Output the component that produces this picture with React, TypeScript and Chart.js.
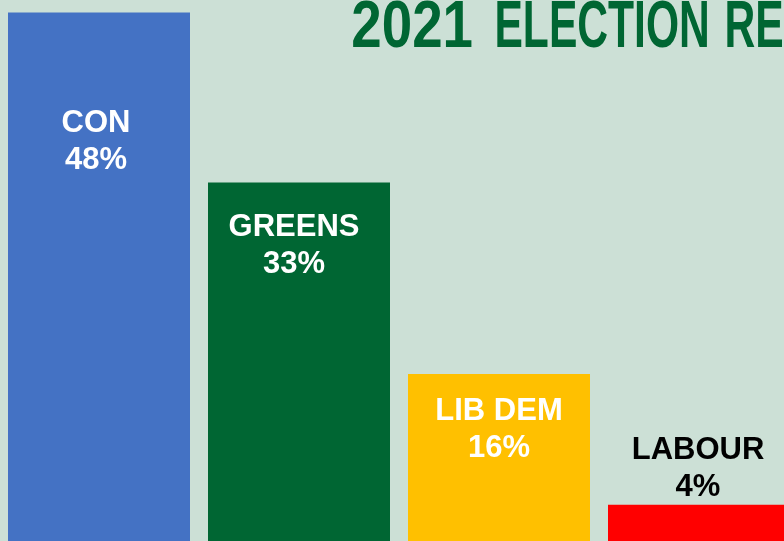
import React, { useEffect, useRef } from "react";
import { Chart, registerables } from "chart.js";

Chart.register(...registerables);

const parties = ["CON", "GREENS", "LIB DEM", "LABOUR"];
const shares = [47.9, 32.8, 15.8, 4.2];
const barColors = ["#4472C4", "#006633", "#FFC000", "#FF0000"];
const labelColors = ["#FFFFFF", "#FFFFFF", "#FFFFFF", "#000000"];
const titleYear = "2021";
const titleRest = ["ELECTION", "RESULTS"];

// label layout (pixels relative to each bar's top / centre)
const labelBaseline = [119.8, 53.6, 46.1, -45.7];
const labelDx = [-3, -5, 0, -1];

const BG = "#CCE0D6";

const labelPlugin = {
  id: "barLabels",
  afterDatasetsDraw(chart: any) {
    const ctx = chart.ctx;
    const meta = chart.getDatasetMeta(0);
    ctx.save();
    ctx.font = "bold 31px 'Liberation Sans', Arial, sans-serif";
    ctx.textAlign = "center";
    ctx.textBaseline = "alphabetic";
    meta.data.forEach((bar: any, i: number) => {
      ctx.fillStyle = labelColors[i];
      const x = bar.x + labelDx[i];
      const y = bar.y + labelBaseline[i];
      ctx.fillText(parties[i], x, y);
      ctx.fillText(`${Math.round(shares[i])}%`, x, y + 37);
    });
    ctx.restore();
  },
};

const titlePlugin = {
  id: "condTitle",
  afterDraw(chart: any) {
    const ctx = chart.ctx;
    ctx.save();
    ctx.fillStyle = "#006633";
    ctx.font = "bold 67px 'Liberation Sans', Arial, sans-serif";
    ctx.textBaseline = "alphabetic";
    ctx.textAlign = "left";
    const drawFit = (text: string, left: number, inkWidth: number, scaleOverride?: number) => {
      const m = ctx.measureText(text);
      const ink = m.actualBoundingBoxLeft + m.actualBoundingBoxRight;
      const s = scaleOverride ?? inkWidth / ink;
      ctx.save();
      ctx.translate(left, 47);
      ctx.scale(s, 1);
      ctx.fillText(text, m.actualBoundingBoxLeft, 0);
      ctx.restore();
      return s;
    };
    // canvas is shifted by -1px relative to the page
    drawFit(titleYear, 354, 119);
    const s = drawFit(titleRest[0], 498, 210);
    drawFit(titleRest[1], 728, 0, s);
    ctx.restore();
  },
};

export default function App() {
  const ref = useRef<HTMLCanvasElement>(null);
  useEffect(() => {
    if (!ref.current) return;
    const chart = new Chart(ref.current, {
      type: "bar",
      data: {
        labels: parties,
        datasets: [
          {
            data: shares,
            backgroundColor: barColors,
            borderWidth: 0,
            barPercentage: 0.91,
            categoryPercentage: 1,
          },
        ],
      },
      options: {
        animation: false,
        responsive: false,
        maintainAspectRatio: false,
        devicePixelRatio: 1,
        layout: { padding: 0 },
        plugins: {
          legend: { display: false },
          title: { display: false },
          tooltip: { enabled: false },
        },
        scales: {
          x: { display: false, offset: true },
          y: { display: false, min: 0, max: 49 },
        },
      },
      plugins: [labelPlugin, titlePlugin],
    });
    return () => chart.destroy();
  }, []);

  return (
    <div
      style={{
        position: "fixed",
        left: 0,
        top: 0,
        width: 784,
        height: 541,
        overflow: "hidden",
        background: BG,
      }}
    >
      <canvas
        ref={ref}
        width={800}
        height={552}
        style={{ position: "absolute", left: -1, top: 0, width: 800, height: 552 }}
      />
    </div>
  );
}
